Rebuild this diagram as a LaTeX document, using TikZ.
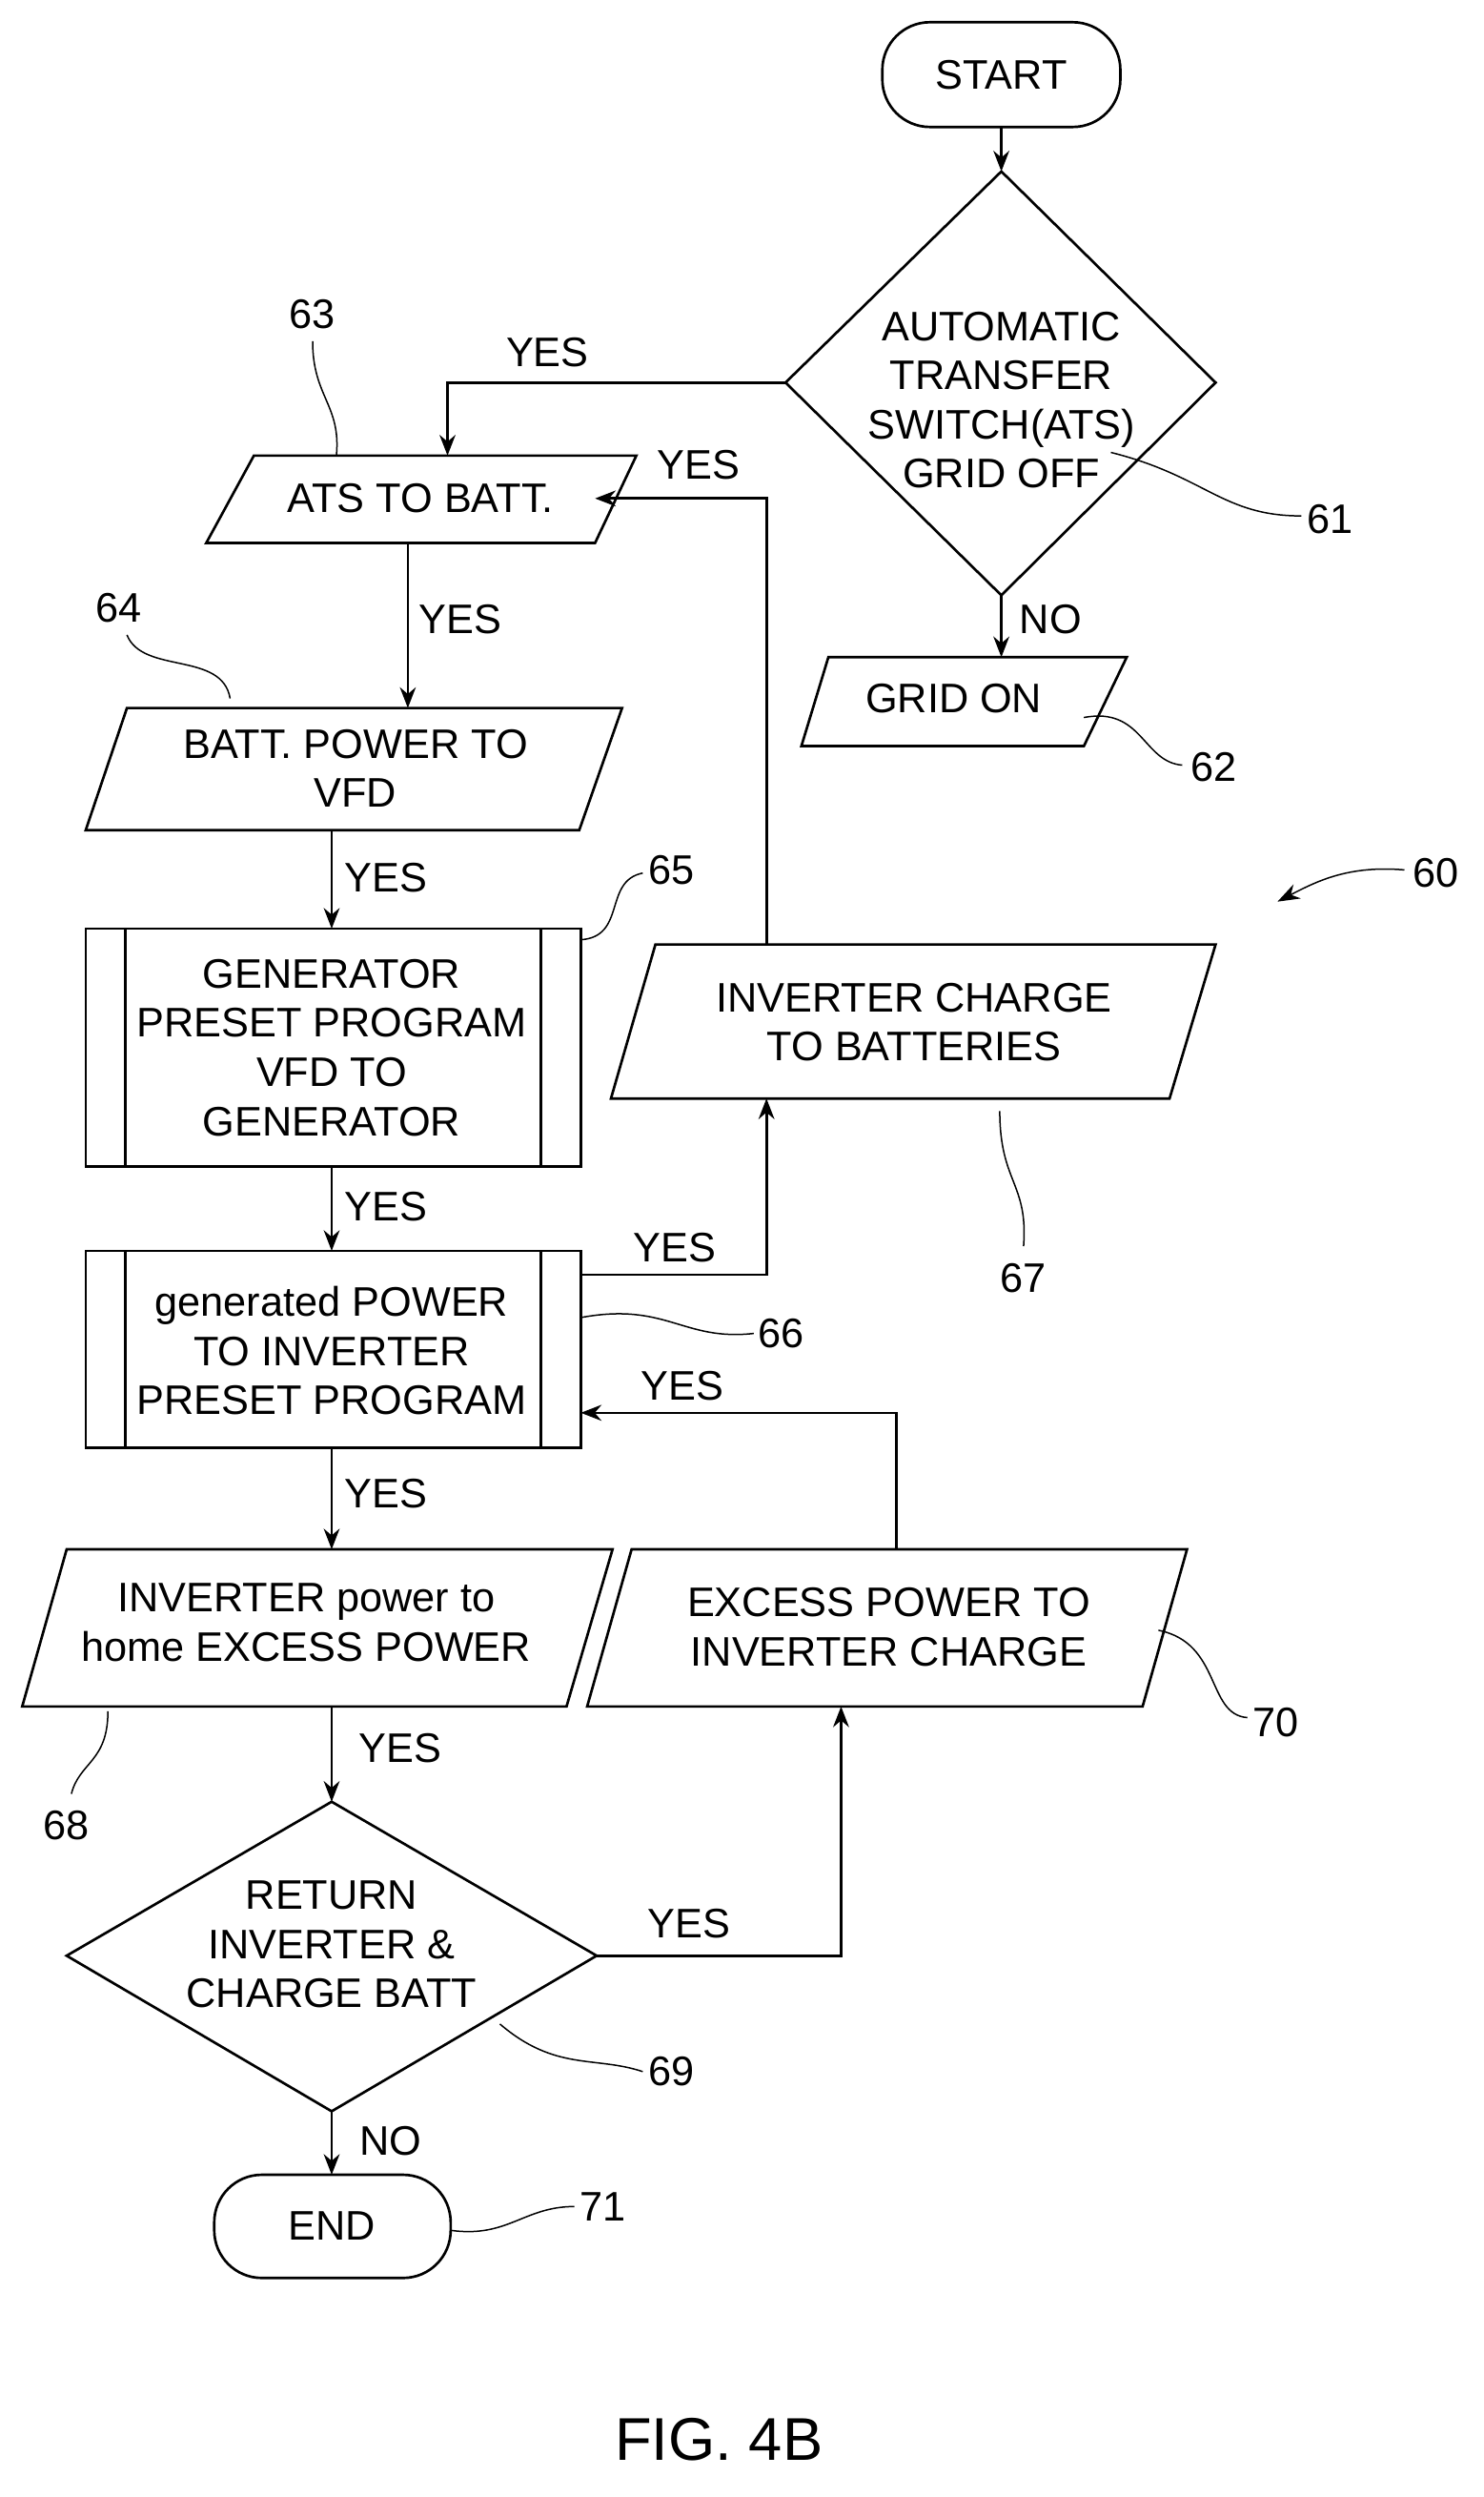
\documentclass[tikz,border=0pt]{standalone}
\usepackage{fontspec}
\setmainfont{Liberation Sans}
\usetikzlibrary{arrows.meta,shapes.geometric}
\begin{document}
\begin{tikzpicture}[x=1pt,y=-1pt,line width=1.6pt,
  every node/.style={font=\fontsize{26}{31}\selectfont,align=center,inner sep=0pt},
  arr/.style={-{Stealth[length=13pt,width=10pt]}},
  lead/.style={line width=0.9pt},
  lbl/.style={font=\fontsize{26}{31}\selectfont}]
\useasboundingbox (0,0) rectangle (935,1573);
% shapes
\draw[rounded corners=30pt] (556,14) rectangle (706,80); \node (start) at (631,47) {START};
\draw (631,108) -- (766,241) -- (631,375) -- (495,241) -- cycle;
\node (d61) at (631,252) {AUTOMATIC\\TRANSFER\\SWITCH(ATS)\\GRID OFF};
\coordinate (d61t) at (631,108); \coordinate (d61l) at (495,241); \coordinate (d61b) at (631,375);
\draw (160,287) -- (401,287) -- (375,342) -- (130,342) -- cycle; \node (ats) at (265,314) {ATS TO BATT.};
\draw (522,414) -- (710,414) -- (683,470) -- (505,470) -- cycle; \node (grid) at (601,440) {GRID ON};
\draw (80,446) -- (392,446) -- (365,523) -- (54,523) -- cycle; \node (batt) at (224,484) {BATT. POWER TO\\VFD};
\draw (54,585) rectangle (366,735); \draw (79,585)--(79,735) (341,585)--(341,735);
\node (gen) at (209,660) {GENERATOR\\PRESET PROGRAM\\VFD TO\\GENERATOR};
\draw (54,788) rectangle (366,912); \draw (79,788)--(79,912) (341,788)--(341,912);
\node (gp) at (209,851) {generated POWER\\TO INVERTER\\PRESET PROGRAM};
\draw (413,595) -- (766,595) -- (737,692) -- (385,692) -- cycle; \node (ic) at (576,644) {INVERTER CHARGE\\TO BATTERIES};
\draw (42,976) -- (386,976) -- (357,1075) -- (14,1075) -- cycle; \node (ip) at (193,1022) {INVERTER power to\\home EXCESS POWER};
\draw (398,976) -- (748,976) -- (720,1075) -- (370,1075) -- cycle; \node (ex) at (560,1025) {EXCESS POWER TO\\INVERTER CHARGE};
\draw (209,1135) -- (376,1232) -- (209,1330) -- (42,1232) -- cycle; \node (d69) at (209,1225) {RETURN\\INVERTER \&\\CHARGE BATT};
\draw[rounded corners=30pt] (135,1370) rectangle (284,1435); \node (endn) at (209,1402) {END};
% connectors
\draw[arr] (start) ++(0,33) -- (d61t);
\draw[arr] (d61l) -- (282,241) -- (282,287);
\node at (345,222) {YES};
\draw[arr] (d61b) -- (631,414); \node at (662,390) {NO};
\draw[arr] (483,595) -- (483,314) -- (375,314); \node at (440,293) {YES};
\draw[arr] (257,342) -- (257,446); \node at (290,390) {YES};
\draw[arr] (209,523) -- (209,585); \node at (243,553) {YES};
\draw[arr] (209,735) -- (209,788); \node at (243,760) {YES};
\draw[arr] (366,803) -- (483,803) -- (483,692); \node at (425,786) {YES};
\draw[arr] (565,976) -- (565,890) -- (366,890); \node at (430,873) {YES};
\draw[arr] (209,912) -- (209,976); \node at (243,941) {YES};
\draw[arr] (209,1075) -- (209,1135); \node at (252,1101) {YES};
\draw[arr] (376,1232) -- (530,1232) -- (530,1075); \node at (434,1212) {YES};
\draw[arr] (209,1330) -- (209,1370); \node at (246,1349) {NO};
% reference labels
\node (n61) at (838,327) {61}; \draw[lead] (700,285) .. controls (760,300) and (770,325) .. (820,325);
\node (n63) at (197,198) {63}; \draw[lead] (197,215) .. controls (197,250) and (215,255) .. (212,287);
\node (n64) at (75,383) {64}; \draw[lead] (80,400) .. controls (90,425) and (140,410) .. (145,440);
\node (n65) at (423,548) {65}; \draw[lead] (366,592) .. controls (395,590) and (380,555) .. (405,550);
\node (n66) at (492,840) {66}; \draw[lead] (366,830) .. controls (420,820) and (430,845) .. (475,840);
\node (n67) at (645,805) {67}; \draw[lead] (630,700) .. controls (630,745) and (648,745) .. (645,785);
\node (n68) at (42,1150) {68}; \draw[lead] (68,1078) .. controls (68,1110) and (50,1110) .. (45,1130);
\node (n70) at (804,1085) {70}; \draw[lead] (730,1027) .. controls (770,1035) and (760,1080) .. (786,1082);
\node (n69) at (423,1305) {69}; \draw[lead] (315,1275) .. controls (350,1305) and (375,1295) .. (405,1305);
\node (n71) at (380,1390) {71}; \draw[lead] (284,1405) .. controls (320,1410) and (330,1390) .. (362,1390);
\node (n62) at (765,483) {62}; \draw[lead] (683,452) .. controls (720,445) and (720,480) .. (745,482);
\node (n60) at (905,550) {60}; \draw[lead,-{Stealth[length=14pt,width=10pt]}] (885,548) .. controls (850,545) and (830,555) .. (805,568);
\node (fig) at (453,1537) {\fontsize{38}{44}\selectfont FIG. 4B};
\end{tikzpicture}
\end{document}
